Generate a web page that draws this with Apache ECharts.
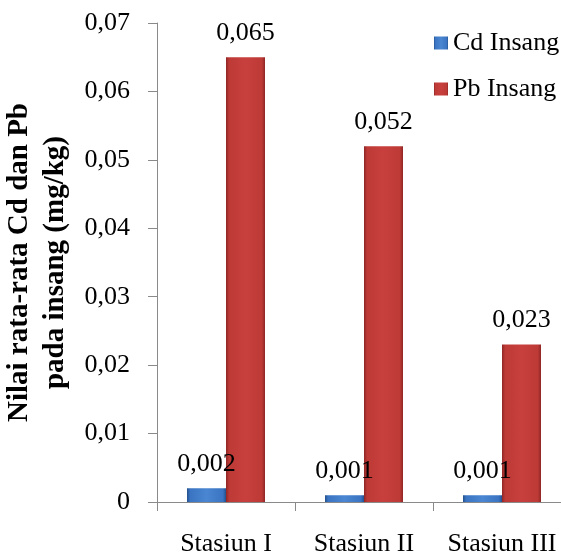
<!DOCTYPE html>
<html><head><meta charset="utf-8">
<script src="https://cdn.jsdelivr.net/npm/echarts@6/dist/echarts.min.js"></script>
<style>html,body{margin:0;padding:0;background:#fff}#c{width:561px;height:553px}</style>
</head><body><div id="c"></div>
<script>
const categories = ['Stasiun I', 'Stasiun II', 'Stasiun III'];
const cdValues = [0.002, 0.001, 0.001];
const pbValues = [0.065, 0.052, 0.023];
const seriesNames = ['Cd Insang', 'Pb Insang'];

const fmt = v => (v === 0 ? '0' : String(+v.toFixed(3)).replace('.', ','));
function grad(edge, mid, light) {
  return new echarts.graphic.LinearGradient(0, 0, 1, 0, [
    {offset: 0, color: edge}, {offset: 0.08, color: mid}, {offset: 0.5, color: light},
    {offset: 0.92, color: mid}, {offset: 1, color: edge}]);
}
const font = '"Liberation Serif", "DejaVu Serif", serif';
const chart = echarts.init(document.getElementById('c'));
chart.setOption({
  animation: false,
  textStyle: {fontFamily: font},
  grid: {left: 157, top: 23, width: 414, height: 479, containLabel: false, outerBoundsMode: 'none'},
  legend: {
    orient: 'vertical', left: 429, top: 25, itemGap: 20, itemWidth: 14, itemHeight: 13,
    icon: 'rect',
    textStyle: {fontFamily: font, fontSize: 26, color: '#000', lineHeight: 26},
    data: seriesNames
  },
  xAxis: {
    type: 'category', data: categories,
    axisLine: {lineStyle: {color: '#8a8a8a'}},
    axisTick: {show: true, length: 9, lineStyle: {color: '#8a8a8a'}},
    axisLabel: {fontFamily: font, fontSize: 26, color: '#000', margin: 29, interval: 0, hideOverlap: false}
  },
  yAxis: {
    type: 'value', min: 0, max: 0.07, interval: 0.01,
    name: 'Nilai rata-rata Cd dan Pb\npada insang (mg/kg)',
    nameLocation: 'middle', nameGap: 75, nameRotate: 90,
    nameTextStyle: {fontFamily: font, fontSize: 29, fontWeight: 'bold', color: '#000', lineHeight: 36},
    axisLine: {show: true, lineStyle: {color: '#8a8a8a'}},
    axisTick: {show: true, length: 9, lineStyle: {color: '#8a8a8a'}},
    splitLine: {show: false},
    axisLabel: {fontFamily: font, fontSize: 26, color: '#000', margin: 27, formatter: fmt}
  },
  series: [
    {
      name: seriesNames[0], type: 'bar', data: cdValues, barWidth: 39, barGap: '0%',
      itemStyle: {color: grad('#24508c', '#3a74c2', '#4a86d2')},
      label: {show: true, position: 'top', distance: 11, fontFamily: font, fontSize: 26, color: '#000', formatter: p => fmt(p.value)}
    },
    {
      name: seriesNames[1], type: 'bar', data: pbValues, barWidth: 39,
      itemStyle: {color: grad('#8e2624', '#bd3a37', '#c8403d')},
      label: {show: true, position: 'top', distance: 11, fontFamily: font, fontSize: 26, color: '#000', formatter: p => fmt(p.value)}
    }
  ]
});
</script></body></html>
